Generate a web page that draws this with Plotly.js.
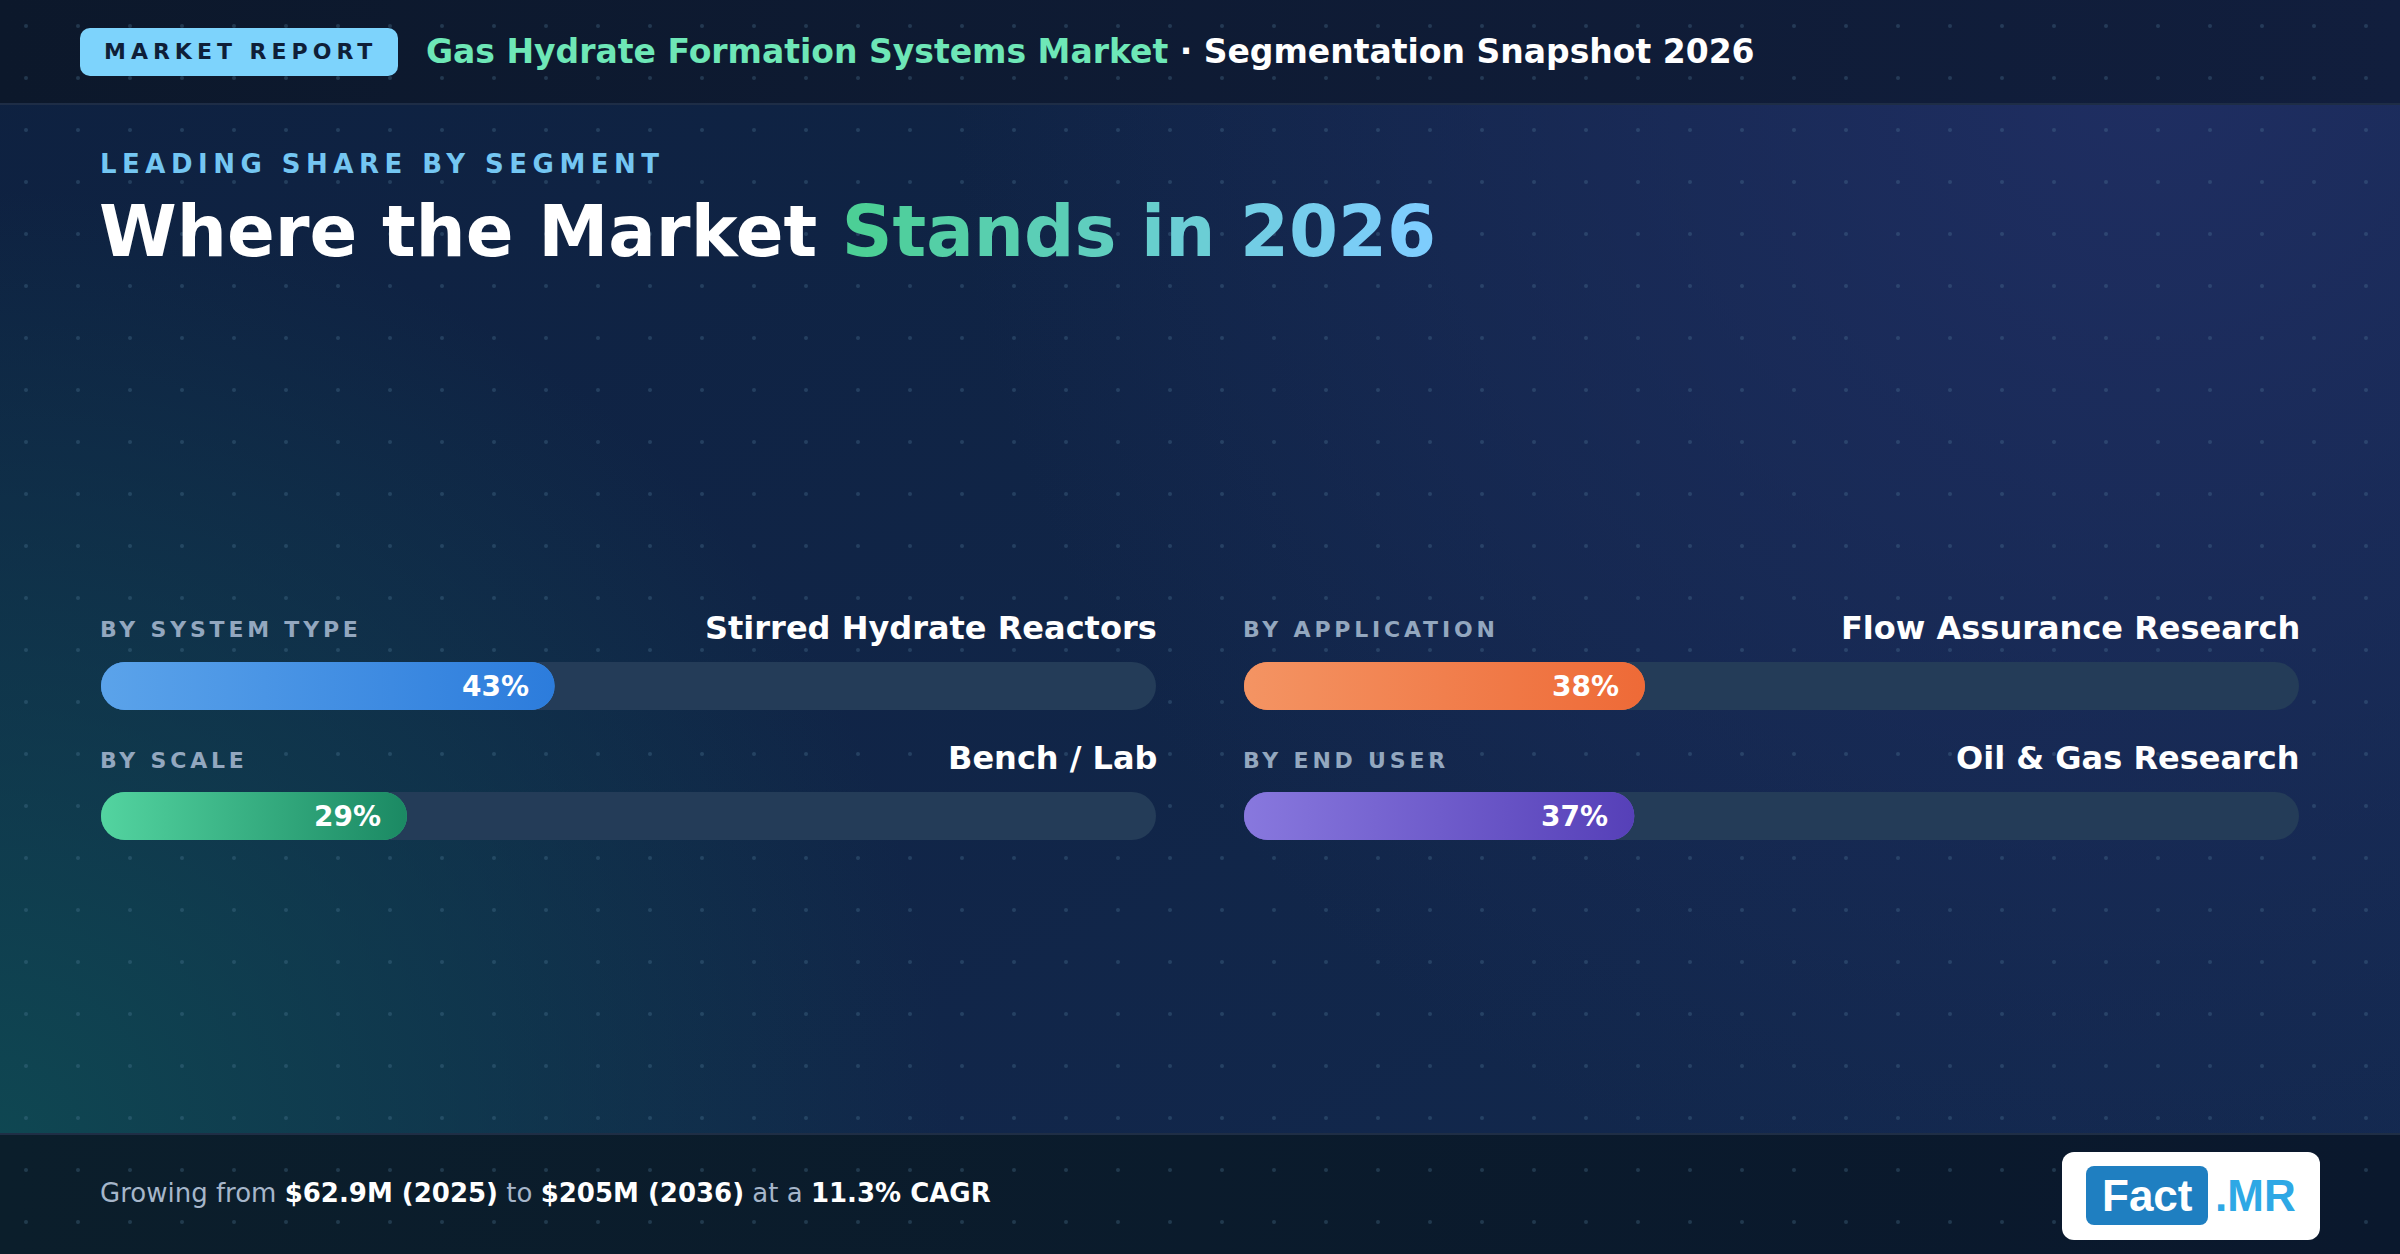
<!DOCTYPE html>
<html>
<head>
<meta charset="utf-8">
<script src="https://cdn.plot.ly/plotly-3.0.1.min.js"></script>
<style>
html,body{margin:0;padding:0;background:#0f2444;overflow:hidden}
#chart{width:2400px;height:1254px}
</style>
</head>
<body>
<div id="chart"></div>
<script>
// ---------- DATA ----------
const segments = ["BY SYSTEM TYPE", "BY SCALE", "BY APPLICATION", "BY END USER"];
const leaders  = ["Stirred Hydrate Reactors", "Bench / Lab", "Flow Assurance Research", "Oil & Gas Research"];
const shares   = [43, 29, 38, 37];
const fullScale = 100;
const reportYear = "2026";
const marketName = "Gas Hydrate Formation Systems Market";
const marketStart = "$62.9M", startYear = "2025";
const marketEnd = "$205M", endYear = "2036";
const cagr = "11.3%";

// ---------- STYLES ----------
const gradStart = ["#5ba3ea", "#53d4a0", "#f49463", "#8878de"];
const gradEnd   = ["#2c7cdc", "#1b8963", "#ee6a37", "#5640b8"];
const solidFill = ["#3f8fe3", "#34ae80", "#f17d4c", "#6f5ccb"];
const trackColor = "#243c58";

const W = 2400, H = 1254;
const fx = p => p / W;
const fy = p => 1 - p / H;
const FONT = "DejaVu Sans";

const panelDomains = [[101 / W, 1156 / W], [1244 / W, 2299 / W]];
const panelPx = [[101, 1156], [1244, 2299]];
const barH = 48, rowPitch = 130;
const barWidth = barH / rowPitch;

// ---------- BACKGROUND (decoration) ----------
const bgSvg = `<svg xmlns="http://www.w3.org/2000/svg" width="${W}" height="${H}" viewBox="0 0 ${W} ${H}">
<defs>
<linearGradient id="base" x1="0" y1="0" x2="1" y2="1">
<stop offset="0" stop-color="#0e2140"/><stop offset="1" stop-color="#13294f"/>
</linearGradient>
<radialGradient id="tr" cx="2150" cy="60" r="1200" gradientUnits="userSpaceOnUse">
<stop offset="0" stop-color="#1f2e62" stop-opacity="1"/><stop offset="1" stop-color="#1f2e62" stop-opacity="0"/>
</radialGradient>
<radialGradient id="bl" cx="0" cy="1140" r="950" gradientUnits="userSpaceOnUse">
<stop offset="0" stop-color="#0f4752" stop-opacity="1"/><stop offset="1" stop-color="#0f4752" stop-opacity="0"/>
</radialGradient>
<pattern id="dots" width="52" height="52" patternUnits="userSpaceOnUse"><circle cx="26" cy="26" r="2" fill="#5a86a4"/></pattern>
<linearGradient id="hdr" x1="0" x2="1" y1="0" y2="0"><stop offset="0" stop-color="#0c182b"/><stop offset="1" stop-color="#111e3d"/></linearGradient>
<linearGradient id="ftr" x1="0" x2="1" y1="0" y2="0"><stop offset="0" stop-color="#0b1e2b"/><stop offset="1" stop-color="#0a182d"/></linearGradient>
</defs>
<rect width="${W}" height="${H}" fill="url(#base)"/>
<rect width="${W}" height="${H}" fill="url(#tr)"/>
<rect width="${W}" height="${H}" fill="url(#bl)"/>
<rect x="0" y="0" width="${W}" height="104" fill="url(#hdr)"/>
<rect x="0" y="1134" width="${W}" height="120" fill="url(#ftr)"/>
<rect width="${W}" height="${H}" fill="url(#dots)" opacity="0.28"/>
<line x1="0" y1="104" x2="${W}" y2="104" stroke="#1e2d46" stroke-width="2"/>
<line x1="0" y1="1134" x2="${W}" y2="1134" stroke="#1f2e45" stroke-width="2"/>
<rect x="80" y="28" width="318" height="48" rx="10" fill="#7dd3fc"/>
<rect x="2062" y="1152" width="258" height="88" rx="12" fill="#ffffff"/>
<rect x="2086" y="1166" width="122" height="59" rx="8" fill="#1f7fc1"/>
</svg>`;
const svgURI = s => "data:image/svg+xml;charset=utf-8," + encodeURIComponent(s);

// ---------- TRACES ----------
const traces = [];
const images = [{
  source: svgURI(bgSvg), xref: "paper", yref: "paper", x: 0, y: 1,
  sizex: 1, sizey: 1, xanchor: "left", yanchor: "top", sizing: "stretch", layer: "below"
}];
const annotations = [];

for (let p = 0; p < 2; p++) {
  const xa = p === 0 ? "x" : "x2";
  const idx = [p * 2, p * 2 + 1];
  const rows = [0, 1];
  // track (full scale) – explicit base gives rounded corners on both ends
  traces.push({
    type: "bar", orientation: "h", xaxis: xa, yaxis: "y",
    y: rows, x: rows.map(() => fullScale), base: rows.map(() => 0),
    width: barWidth, marker: { color: trackColor, cornerradius: barH / 2, line: { width: 0 } },
    hoverinfo: "skip", textposition: "none", showlegend: false
  });
  // value bars
  traces.push({
    type: "bar", orientation: "h", xaxis: xa, yaxis: "y",
    y: rows, x: idx.map(i => shares[i]), base: rows.map(() => 0),
    width: barWidth, marker: { color: idx.map(i => solidFill[i]), cornerradius: barH / 2, line: { width: 0 } },
    hoverinfo: "skip", textposition: "none", showlegend: false
  });
  idx.forEach((i, r) => {
    // gradient paint for the value bar, sized from its data value
    const trackPx = panelPx[p][1] - panelPx[p][0];
    const wpx = shares[i] / fullScale * trackPx;
    const g = `<svg xmlns="http://www.w3.org/2000/svg" width="${wpx.toFixed(2)}" height="${barH}" viewBox="0 0 ${wpx.toFixed(2)} ${barH}" preserveAspectRatio="none">
<defs><linearGradient id="g" x1="0" x2="1" y1="0" y2="0"><stop offset="0" stop-color="${gradStart[i]}"/><stop offset="1" stop-color="${gradEnd[i]}"/></linearGradient></defs>
<rect x="0" y="0" width="${wpx.toFixed(2)}" height="${barH}" rx="${barH / 2}" ry="${barH / 2}" fill="url(#g)"/></svg>`;
    images.push({
      source: svgURI(g), xref: xa, yref: "y", x: 0, y: r, sizex: shares[i], sizey: barWidth,
      xanchor: "left", yanchor: "middle", sizing: "stretch", layer: "above"
    });
    annotations.push({
      xref: xa, yref: "y", x: shares[i], y: r, xanchor: "right", yanchor: "middle", xshift: -24,
      text: "<b>" + shares[i] + "%</b>", showarrow: false,
      font: { family: FONT, size: 28, color: "#ffffff" }
    });
    const capY = r === 0 ? [629, 628] : [760, 758];
    annotations.push({
      xref: "paper", yref: "paper", x: fx(panelPx[p][0] - 3), y: fy(capY[0]), xanchor: "left", yanchor: "middle",
      text: `<span style="letter-spacing:3.8px"><b>${segments[i]}</b></span>`, showarrow: false,
      font: { family: FONT, size: 22, color: "#93a7bf" }
    });
    annotations.push({
      xref: "paper", yref: "paper", x: fx(panelPx[p][1] + 3), y: fy(capY[1]), xanchor: "right", yanchor: "middle",
      text: `<b>${leaders[i].replace("&", "&amp;")}</b>`, showarrow: false,
      font: { family: FONT, size: 32, color: "#ffffff" }
    });
  });
}

// ---------- TEXT ----------
annotations.push({
  xref: "paper", yref: "paper", x: fx(240), y: fy(52), xanchor: "center", yanchor: "middle",
  text: `<span style="letter-spacing:5px"><b>MARKET REPORT</b></span>`, showarrow: false,
  font: { family: FONT, size: 22, color: "#0f1f38" }
});
annotations.push({
  xref: "paper", yref: "paper", x: fx(424), y: fy(52), xanchor: "left", yanchor: "middle",
  text: `<b><span style="color:#6ee7b7">${marketName}</span> · Segmentation Snapshot ${reportYear}</b>`,
  showarrow: false, font: { family: FONT, size: 33, color: "#ffffff" }
});
annotations.push({
  xref: "paper", yref: "paper", x: fx(98), y: fy(164), xanchor: "left", yanchor: "middle",
  text: `<span style="letter-spacing:5.5px"><b>LEADING SHARE BY SEGMENT</b></span>`, showarrow: false,
  font: { family: FONT, size: 26, color: "#74c6f2" }
});
function hex2rgb(h) { return [1, 3, 5].map(k => parseInt(h.substr(k, 2), 16)); }
function mix(a, b, t) { const A = hex2rgb(a), B = hex2rgb(b); return "rgb(" + A.map((v, k) => Math.round(v + (B[k] - v) * t)).join(",") + ")"; }
const ramp = "Stands in " + reportYear;
let rampHtml = "";
for (let k = 0; k < ramp.length; k++) {
  const ch = ramp[k];
  if (ch === " ") { rampHtml += " "; continue; }
  rampHtml += `<span style="color:${mix("#4ccf96", "#7ecdfd", k / (ramp.length - 1))}">${ch}</span>`;
}
annotations.push({
  xref: "paper", yref: "paper", x: fx(97), y: fy(232), xanchor: "left", yanchor: "middle",
  text: `<b>Where the Market ${rampHtml}</b>`, showarrow: false,
  font: { family: FONT, size: 70.5, color: "#ffffff" }
});
annotations.push({
  xref: "paper", yref: "paper", x: fx(98), y: fy(1193), xanchor: "left", yanchor: "middle",
  text: `Growing from <span style="color:#ffffff"><b>${marketStart} (${startYear})</b></span> to <span style="color:#ffffff"><b>${marketEnd} (${endYear})</b></span> at a <span style="color:#ffffff"><b>${cagr} CAGR</b></span>`,
  showarrow: false, font: { family: FONT, size: 26, color: "#a6b6ca" }
});
annotations.push({
  xref: "paper", yref: "paper", x: fx(2147), y: fy(1195), xanchor: "center", yanchor: "middle",
  text: "<b>Fact</b>", showarrow: false, font: { family: "Liberation Sans", size: 44, color: "#ffffff" }
});
annotations.push({
  xref: "paper", yref: "paper", x: fx(2213), y: fy(1195), xanchor: "left", yanchor: "middle",
  text: "<b>.MR</b>", showarrow: false, font: { family: "Liberation Sans", size: 44, color: "#2ea8e5" }
});

const hiddenX = d => ({ domain: d, range: [0, fullScale], visible: false, showgrid: false, zeroline: false, fixedrange: true });
const layout = {
  width: W, height: H,
  margin: { l: 0, r: 0, t: 0, b: 0, pad: 0 },
  paper_bgcolor: "#0f2444", plot_bgcolor: "rgba(0,0,0,0)",
  barmode: "overlay", showlegend: false,
  xaxis: hiddenX(panelDomains[0]),
  xaxis2: Object.assign(hiddenX(panelDomains[1]), { anchor: "y" }),
  yaxis: { domain: [fy(686 + rowPitch * 1.5), fy(686 - rowPitch * 0.5)], range: [1.5, -0.5], visible: false, showgrid: false, zeroline: false, fixedrange: true },
  images: images,
  annotations: annotations,
  font: { family: FONT }
};

Plotly.newPlot("chart", traces, layout, { staticPlot: true, displayModeBar: false });
</script>
</body>
</html>
